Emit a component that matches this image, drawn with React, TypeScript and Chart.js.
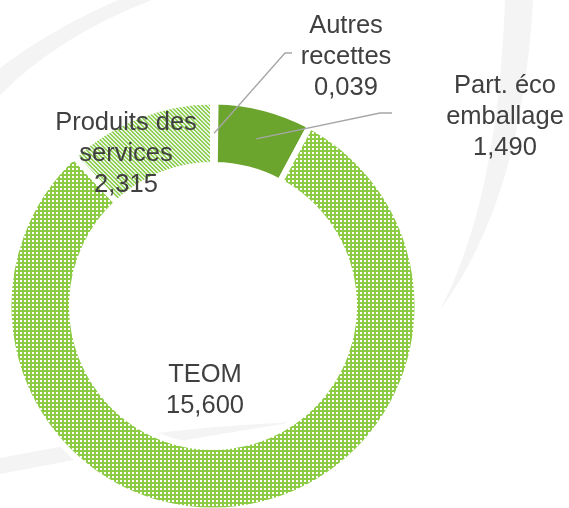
import React, { useEffect, useRef } from 'react';
import { Chart, registerables } from 'chart.js';

Chart.register(...registerables);

const categories = ['Autres recettes', 'Part. éco emballage', 'TEOM', 'Produits des services'];
const labelLines = [['Autres', 'recettes'], ['Part. éco', 'emballage'], ['TEOM'], ['Produits des', 'services']];
const values = [0.039, 1.49, 15.6, 2.315];

const W = 569;
const H = 508;

function makeDotPattern(ctx: CanvasRenderingContext2D): CanvasPattern | string {
  const t = document.createElement('canvas');
  t.width = 4;
  t.height = 4;
  const c = t.getContext('2d');
  if (!c) return '#8DCB45';
  c.fillStyle = '#8DCB45';
  c.fillRect(0, 0, 4, 4);
  c.fillStyle = '#FFFFFF';
  c.fillRect(0, 0, 2, 2);
  return ctx.createPattern(t, 'repeat') || '#8DCB45';
}

function makeStripePattern(ctx: CanvasRenderingContext2D): CanvasPattern | string {
  const t = document.createElement('canvas');
  t.width = 4;
  t.height = 4;
  const c = t.getContext('2d');
  if (!c) return '#92D050';
  for (let y = 0; y < 4; y++) {
    for (let x = 0; x < 4; x++) {
      c.fillStyle = ((x - y + 8) % 4) < 2 ? '#92D050' : '#E6F3E6';
      c.fillRect(x, y, 1, 1);
    }
  }
  return ctx.createPattern(t, 'repeat') || '#92D050';
}

const fmt = (v: number) => v.toFixed(3).replace('.', ',');

const backgroundPlugin = {
  id: 'bgSwoosh',
  beforeDraw(chart: any) {
    const ctx = chart.ctx as CanvasRenderingContext2D;
    ctx.save();
    ctx.fillStyle = '#FFFFFF';
    ctx.fillRect(0, 0, chart.width, chart.height);
    ctx.fillStyle = '#F4F4F4';
    // top-left swoosh
    ctx.beginPath();
    ctx.moveTo(0, 95);
    ctx.quadraticCurveTo(60, 35, 152, 0);
    ctx.lineTo(118, 0);
    ctx.quadraticCurveTo(50, 30, 0, 68);
    ctx.closePath();
    ctx.fill();
    // right swoosh
    ctx.beginPath();
    ctx.moveTo(505, 0);
    ctx.quadraticCurveTo(498, 200, 440, 310);
    ctx.quadraticCurveTo(522, 200, 533, 0);
    ctx.closePath();
    ctx.fill();
    // bottom-left swoosh
    ctx.beginPath();
    ctx.moveTo(0, 458);
    ctx.quadraticCurveTo(150, 428, 295, 422);
    ctx.quadraticCurveTo(150, 445, 0, 474);
    ctx.closePath();
    ctx.fill();
    ctx.restore();
  },
};

// label layout relative to the doughnut centre: [dx, first baseline dy]
const labelLayout = [
  { dx: 133, dy: -273, leader: [[72, -253], [79, -253]] },
  { dx: 292, dy: -213, leader: [[167, -193], [179, -193]] },
  { dx: -8, dy: 76, leader: null },
  { dx: -87, dy: -176, leader: null },
];

const labelPlugin = {
  id: 'sliceLabels',
  afterDraw(chart: any) {
    const ctx = chart.ctx as CanvasRenderingContext2D;
    const meta = chart.getDatasetMeta(0);
    ctx.save();
    meta.data.forEach((arc: any, i: number) => {
      const cx = arc.x;
      const cy = arc.y;
      const lay = labelLayout[i];
      if (lay.leader) {
        const p = arc.getCenterPoint();
        ctx.strokeStyle = '#A6A6A6';
        ctx.lineWidth = 1.3;
        ctx.beginPath();
        ctx.moveTo(p.x, p.y);
        lay.leader.forEach((pt: number[]) => ctx.lineTo(cx + pt[0], cy + pt[1]));
        ctx.stroke();
      }
      const lines = [...labelLines[i], fmt(values[i])];
      ctx.font = '25.5px "Liberation Sans", Arial, sans-serif';
      ctx.fillStyle = '#404040';
      ctx.textAlign = 'center';
      ctx.textBaseline = 'alphabetic';
      lines.forEach((ln, k) => {
        ctx.fillText(ln, cx + lay.dx, cy + lay.dy + k * 31);
      });
    });
    ctx.restore();
  },
};

export default function App() {
  const ref = useRef<HTMLCanvasElement | null>(null);
  useEffect(() => {
    const canvas = ref.current;
    if (!canvas) return;
    const ctx = canvas.getContext('2d');
    if (!ctx) return;
    const colors = ['#A9D18E', '#6BA52E', makeDotPattern(ctx), makeStripePattern(ctx)];
    const chart = new Chart(canvas, {
      type: 'doughnut',
      data: {
        labels: categories,
        datasets: [
          {
            data: values,
            backgroundColor: colors as any,
            borderColor: '#FFFFFF',
            borderWidth: 6,
            hoverOffset: 0,
          },
        ],
      },
      options: {
        responsive: false,
        animation: false,
        events: [],
        radius: 204.5,
        cutout: '68.95%',
        layout: { padding: { left: 0, right: 143, top: 104, bottom: 0 } },
        plugins: {
          legend: { display: false },
          tooltip: { enabled: false },
        },
      } as any,
      plugins: [backgroundPlugin, labelPlugin],
    });
    return () => chart.destroy();
  }, []);
  return (
    <div style={{ position: 'absolute', left: 0, top: 0, width: W, height: H, background: '#FFFFFF' }}>
      <canvas ref={ref} width={W} height={H} style={{ display: 'block', width: W, height: H }} />
    </div>
  );
}
